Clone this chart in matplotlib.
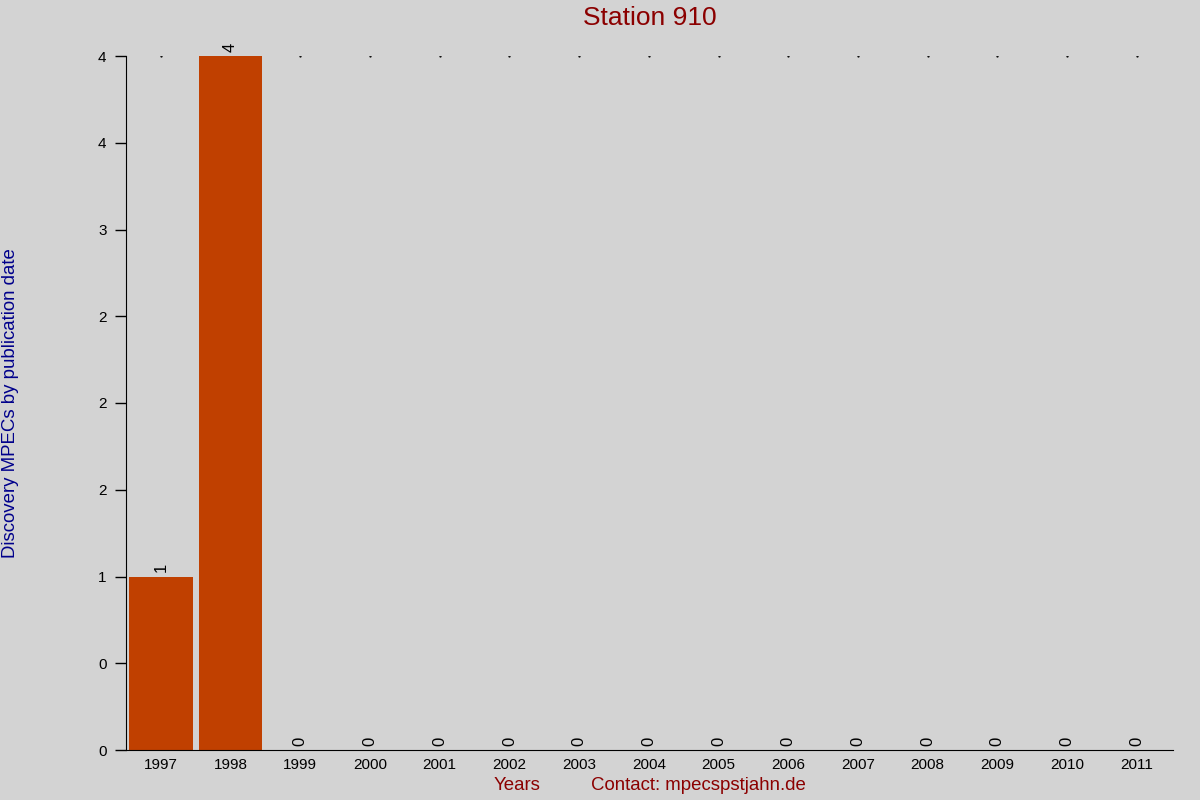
import matplotlib
matplotlib.use("Agg")
import matplotlib.pyplot as plt
import numpy as np
from matplotlib.ticker import FuncFormatter

plt.rcParams['font.family'] = ['Liberation Sans', 'DejaVu Sans']

years = ['1997', '1998', '1999', '2000', '2001', '2002', '2003', '2004',
         '2005', '2006', '2007', '2008', '2009', '2010', '2011']
counts = [1, 4, 0, 0, 0, 0, 0, 0, 0, 0, 0, 0, 0, 0, 0]
y_ticks = [0, 0.5, 1, 1.5, 2, 2.5, 3, 3.5, 4]

bg = '#d3d3d3'
fig = plt.figure(figsize=(12, 8), dpi=100, facecolor=bg)
ax = fig.add_axes([126/1200, 50/800, (1173-126)/1200, (750-56)/800])
ax.set_facecolor(bg)

x = np.arange(len(years))
ax.bar(x, counts, width=0.91, color='#c04000', zorder=2)
# small dots along the top
ax.plot(x, [max(counts)] * len(x), ls='none', marker='o', ms=0.6, color='black', zorder=1)

for i, v in enumerate(counts):
    ax.annotate(str(v), xy=(i, v), xytext=(0, 3), textcoords='offset points',
                rotation=90, ha='center', va='bottom', fontsize=12)

ax.set_xlim(-0.5, len(years) - 0.48)
ax.set_ylim(0, 4)
ax.set_xticks(x)
ax.set_xticklabels(years, fontsize=11)
ax.tick_params(axis='x', length=0, pad=6)
ax.set_yticks(y_ticks)
ax.yaxis.set_major_formatter(FuncFormatter(lambda v, p: '%.0f' % v))
ax.tick_params(axis='y', length=8, width=1, labelsize=11, pad=6)

for s in ['top', 'right']:
    ax.spines[s].set_visible(False)
ax.spines['left'].set_bounds(0, 4)

fig.text(650/1200, 1 - 18/800, 'Station 910', color='#8b0000', fontsize=19,
         ha='center', va='center')
fig.text(11/1200, 1 - 403/800, 'Discovery MPECs by publication date', color='#00008b',
         fontsize=13.4, rotation=90, ha='center', va='center')
fig.text(517/1200, 1 - 786/800, 'Years', color='#8b0000', fontsize=13.4,
         ha='center', va='center')
fig.text(698/1200, 1 - 786/800, 'Contact: mpecspstjahn.de', color='#8b0000', fontsize=13.4,
         ha='center', va='center')

fig.savefig('out.png', dpi=100, facecolor=bg)
